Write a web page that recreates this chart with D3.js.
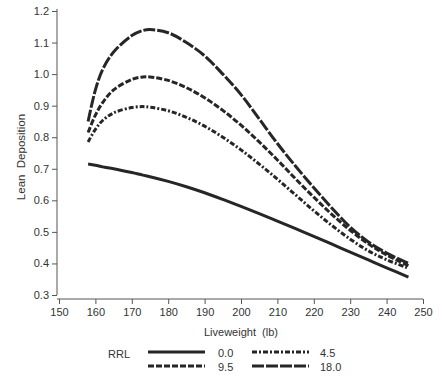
<!DOCTYPE html>
<html>
<head>
<meta charset="utf-8">
<script src="https://cdn.jsdelivr.net/npm/d3@7"></script>
<style>
body { margin: 0; background: #fff; }
text { font-family: "Liberation Sans", Arial, sans-serif; fill: #333; }
</style>
</head>
<body>
<script>
// liveweight (lb) sample points
var weights = [158, 160, 162, 165, 170, 173, 175, 180, 185, 190, 195, 200, 205, 210, 215, 220, 225, 230, 235, 240, 246];

var rrl0  = [0.715, 0.711, 0.706, 0.700, 0.688, 0.680, 0.675, 0.660, 0.643, 0.624, 0.603, 0.581, 0.558, 0.534, 0.510, 0.486, 0.461, 0.436, 0.411, 0.386, 0.357];
var rrl45 = [0.785, 0.825, 0.853, 0.877, 0.894, 0.897, 0.895, 0.884, 0.863, 0.835, 0.800, 0.760, 0.715, 0.667, 0.617, 0.567, 0.520, 0.477, 0.440, 0.412, 0.385];
var rrl95 = [0.815, 0.870, 0.910, 0.950, 0.983, 0.991, 0.991, 0.980, 0.957, 0.925, 0.885, 0.838, 0.785, 0.728, 0.668, 0.610, 0.555, 0.505, 0.462, 0.427, 0.393];
var rrl18 = [0.850, 0.950, 1.015, 1.070, 1.122, 1.138, 1.141, 1.131, 1.100, 1.058, 1.000, 0.935, 0.858, 0.780, 0.708, 0.640, 0.575, 0.515, 0.468, 0.433, 0.400];

var seriesNames = ["0.0", "4.5", "9.5", "18.0"];
var seriesDash = ["none", "5,2,2,2", "6,2", "12,2"];
var seriesValues = [rrl0, rrl45, rrl95, rrl18];

var xTicks = d3.range(150, 251, 10);
var yTicks = d3.range(3, 13).map(function(d) { return d / 10; });

var width = 443, height = 381;

var svg = d3.select("body").append("svg")
  .attr("width", width)
  .attr("height", height);

var x = d3.scaleLinear().domain([150, 250]).range([59, 423]);
var y = d3.scaleLinear().domain([0.3, 1.2]).range([295, 11]);

// y axis
var yMinor = d3.axisLeft(y)
  .tickValues(d3.range(30, 121, 2).map(function(d) { return d / 100; }))
  .tickSize(3).tickFormat("");
var yMajor = d3.axisLeft(y)
  .tickValues(yTicks).tickSize(5).tickPadding(3)
  .tickFormat(d3.format(".1f"));

var gy = svg.append("g").attr("transform", "translate(57,0)");
gy.call(yMinor);
gy.call(yMajor);

// x axis
var xMinor = d3.axisBottom(x)
  .tickValues(d3.range(150, 251, 2))
  .tickSize(3).tickFormat("");
var xMajor = d3.axisBottom(x)
  .tickValues(xTicks).tickSize(5).tickPadding(4)
  .tickFormat(d3.format("d"));

var gx = svg.append("g").attr("transform", "translate(0,299)");
gx.call(xMinor);
gx.call(xMajor);

gy.selectAll(".domain").remove();
gx.selectAll(".domain").remove();
gy.append("line").attr("x1", 0).attr("x2", 0).attr("y1", y(1.2) - 2).attr("y2", y(0.3))
  .attr("stroke", "#555");
gx.append("line").attr("x1", 57).attr("x2", x(250)).attr("y1", 0).attr("y2", 0)
  .attr("stroke", "#555");
svg.selectAll(".tick line").attr("stroke", "#555");
svg.selectAll(".tick text")
  .style("font-size", "11px")
  .style("font-family", "'Liberation Sans', Arial, sans-serif")
  .attr("fill", "#333");

// axis titles
svg.append("text")
  .attr("x", x(200)).attr("y", 336)
  .attr("text-anchor", "middle")
  .style("font-size", "11px")
  .style("white-space", "pre")
  .text("Liveweight  (lb)");

svg.append("text")
  .attr("transform", "translate(25,157) rotate(-90)")
  .attr("text-anchor", "middle")
  .style("font-size", "11.5px")
  .style("white-space", "pre")
  .text("Lean  Deposition");

// curves
var line = d3.line()
  .x(function(d, i) { return x(weights[i]); })
  .y(function(d) { return y(d); })
  .curve(d3.curveCatmullRom.alpha(0.5));

svg.selectAll(".curve")
  .data(seriesValues)
  .enter()
  .append("path")
  .attr("class", "curve")
  .attr("fill", "none")
  .attr("stroke", "#262626")
  .attr("stroke-width", 3)
  .attr("stroke-dasharray", function(d, i) { return seriesDash[i]; })
  .attr("d", line);

// legend
svg.append("text")
  .attr("x", 108).attr("y", 358)
  .style("font-size", "11px")
  .text("RRL");

var legendPos = [
  { lx: 148, tx: 218, ly: 352 },
  { lx: 252, tx: 320, ly: 352 },
  { lx: 148, tx: 218, ly: 366 },
  { lx: 252, tx: 320, ly: 366 }
];

var legend = svg.selectAll(".legend")
  .data(seriesNames)
  .enter()
  .append("g")
  .attr("class", "legend");

legend.append("line")
  .attr("x1", function(d, i) { return legendPos[i].lx; })
  .attr("x2", function(d, i) { return legendPos[i].lx + 57; })
  .attr("y1", function(d, i) { return legendPos[i].ly; })
  .attr("y2", function(d, i) { return legendPos[i].ly; })
  .attr("stroke", "#262626")
  .attr("stroke-width", 3)
  .attr("stroke-dasharray", function(d, i) { return seriesDash[i]; });

legend.append("text")
  .attr("x", function(d, i) { return legendPos[i].tx; })
  .attr("y", function(d, i) { return legendPos[i].ly + 5; })
  .style("font-size", "11px")
  .text(function(d) { return d; });
</script>
</body>
</html>
